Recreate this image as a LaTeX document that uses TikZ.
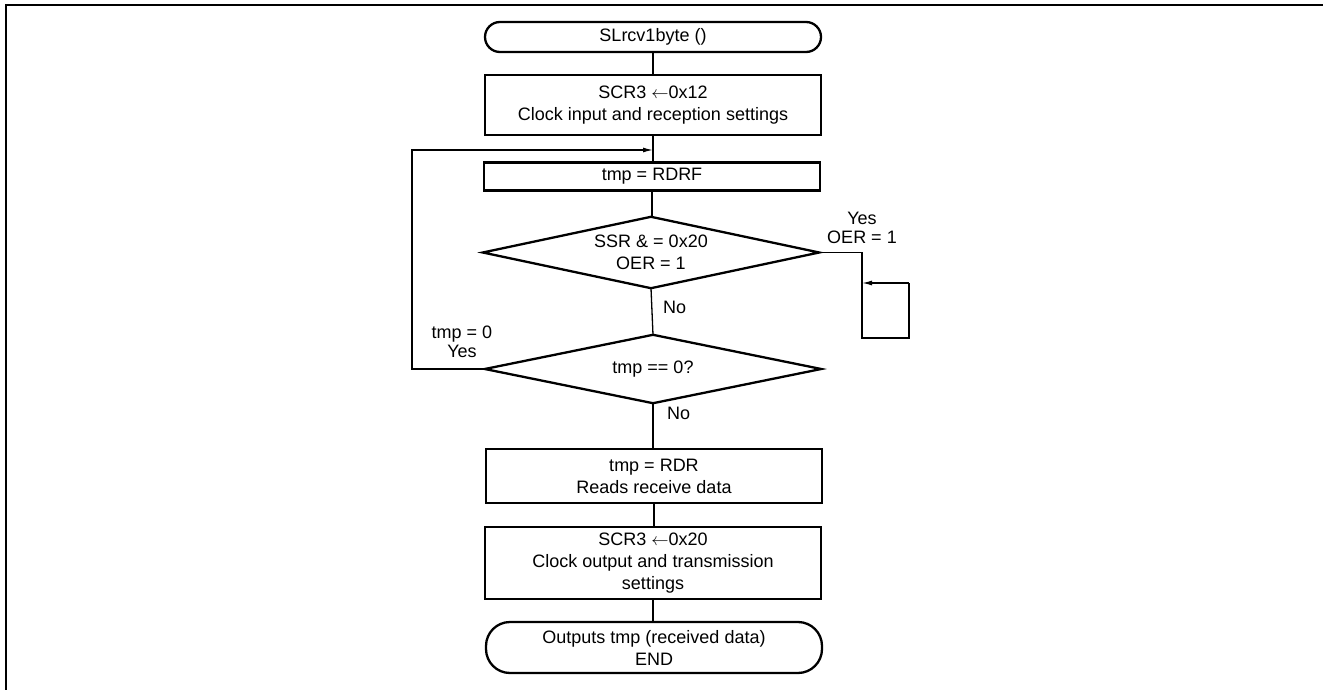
\documentclass[tikz,border=0pt]{standalone}
\usepackage{fontspec}
\setmainfont{Liberation Sans}
\usetikzlibrary{arrows.meta}
\begin{document}
\begin{tikzpicture}[x=1pt,y=-1pt,
  font=\fontsize{18}{22}\selectfont,
  box/.style={draw,line width=2.3pt,minimum width=336pt,inner sep=0pt,align=center},
  term/.style={box,rounded corners=#1},
  dec/.style={rectangle,minimum width=336pt,inner sep=0pt,align=center},
  decline/.style={line width=2.3pt,line join=miter},
  conn/.style={line width=1.3pt},
  arr/.style={conn,-{Latex[length=10pt,width=5pt]}},
  lbl/.style={align=center,inner sep=0pt,font=\fontsize{18}{19}\selectfont}]
\useasboundingbox (0,0) rectangle (1323,690);
% outer frame
\draw[line width=2.7pt] (6,690) -- (6,5) -- (1323,5);

\node[term=15pt,minimum height=30pt] (start) at (653,37) {SLrcv1byte ()};
\node[box,minimum height=60pt] (scr) at (653,105) {SCR3 $\leftarrow$0x12\\Clock input and reception settings};
\node[box,minimum height=28pt] (rdrf) at (652,176.5) {tmp = RDRF};
\node[dec,minimum height=71pt] (oer) at (651,252.5) {SSR \& = 0x20\\OER = 1};
\node[dec,minimum height=68pt] (zero) at (653,369) {tmp == 0?};
\node[box,minimum height=54pt] (rdr) at (654,476) {tmp = RDR\\Reads receive data};
\node[box,minimum height=72pt] (scrb) at (653,563) {SCR3 $\leftarrow$0x20\\Clock output and transmission\\settings};
\node[term=24pt,minimum height=51pt] (finish) at (654,647.5) {Outputs tmp (received data)\\END};

% decision outlines
\draw[decline] (oer.west) -- (oer.north) -- (oer.east) -- (oer.south) -- cycle;
\draw[decline] (zero.west) -- (zero.north) -- (zero.east) -- (zero.south) -- cycle;

% branch labels
\node[lbl] (yes1) at (862,228) {Yes\\OER = 1};
\node[lbl,anchor=west] (no1) at (663,307) {No};
\node[lbl] (yes2) at (462,342) {tmp = 0\\Yes};
\node[lbl,anchor=west] (no2) at (667,413) {No};

% corner points of the loops
\coordinate (join) at (653,150);
\coordinate (backx) at (412,150);
\coordinate (ra) at (862,252.5);
\coordinate (rb) at (862,338);
\coordinate (rc) at (909,338);
\coordinate (rd) at (909,283);
\coordinate (re) at (862,283);

% connectors
\draw[conn] (start) -- (scr);
\draw[conn] (scr.south) -- (scr.south |- rdrf.north);
\draw[conn] (rdrf.south) -- (rdrf.south |- oer.north);
\draw[conn] (oer.south) -- (zero.north);
\draw[conn] (zero.south) -- (zero.south |- rdr.north);
\draw[conn] (rdr.south) -- (rdr.south |- scrb.north);
\draw[conn] (scrb.south) -- (scrb.south |- finish.north);
\draw[arr] (zero.west) -| (backx) -- (join);
\draw[conn] (oer.east) -- (ra) -- (rb) -- (rc) -- (rd);
\draw[arr] (rd) -- (re);
\end{tikzpicture}
\end{document}
